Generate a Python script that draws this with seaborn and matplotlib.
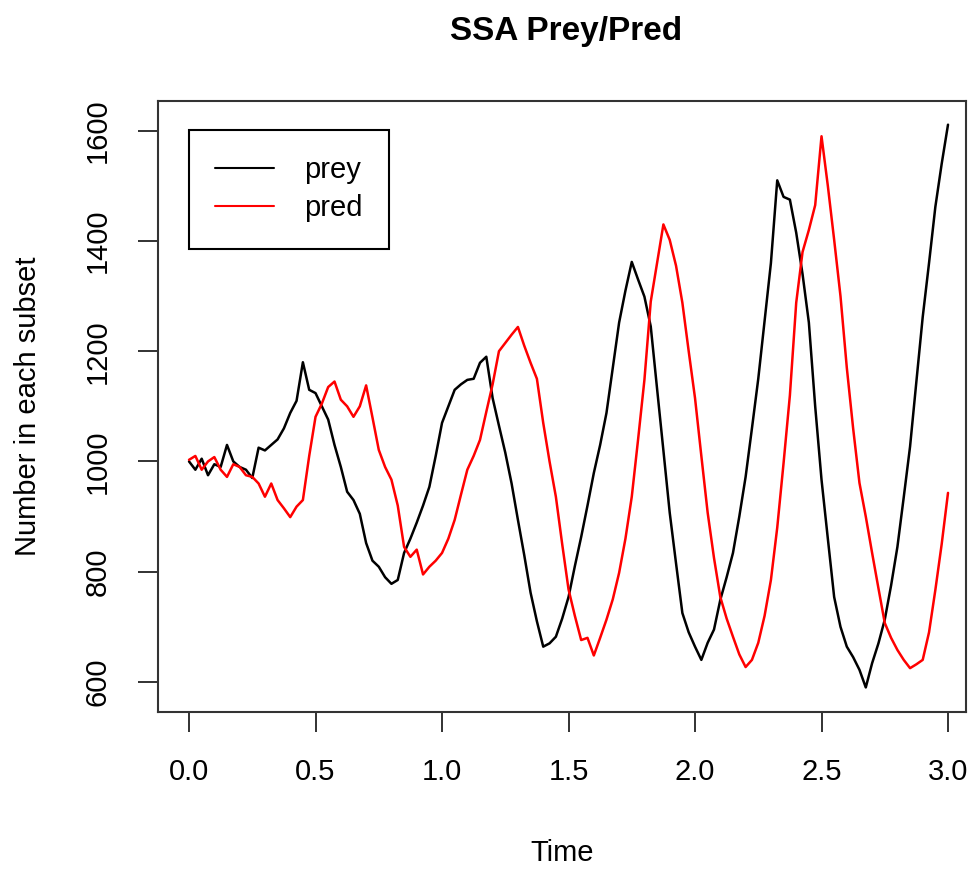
import matplotlib

matplotlib.use("Agg", force=True)
import matplotlib.pyplot as plt
import numpy as np
import pandas as pd
import seaborn as sns

# time grid of the simulation trace (step 0.025)
time = np.round(np.arange(0, 3.0001, 0.025), 3)

prey = [
    1000, 985, 1005, 975, 995, 990, 1030, 1000, 990, 985,
    970, 1025, 1020, 1030, 1040, 1060, 1088, 1110, 1180, 1130,
    1124, 1100, 1076, 1030, 990, 945, 930, 905, 852, 820,
    809, 790, 778, 785, 834, 860, 889, 920, 954, 1010,
    1070, 1100, 1130, 1140, 1148, 1150, 1179, 1190, 1115, 1065,
    1016, 960, 894, 830, 762, 710, 664, 670, 682, 715,
    754, 810, 863, 920, 979, 1030, 1088, 1170, 1252, 1310,
    1362, 1330, 1299, 1245, 1132, 1020, 907, 815, 725, 690,
    664, 640, 671, 695, 749, 790, 834, 900, 972, 1060,
    1150, 1255, 1360, 1510, 1480, 1475, 1415, 1340, 1252, 1100,
    967, 860, 754, 700, 664, 645, 622, 590, 634, 670,
    713, 775, 845, 935, 1027, 1145, 1262, 1360, 1462, 1540,
    1611,
]

pred = [
    1003, 1010, 985, 1000, 1008, 985, 972, 995, 990, 975,
    972, 960, 936, 960, 930, 915, 899, 918, 930, 1010,
    1081, 1105, 1135, 1145, 1112, 1100, 1081, 1100, 1138, 1080,
    1021, 990, 967, 920, 845, 827, 840, 795, 809, 820,
    834, 860, 894, 940, 985, 1010, 1039, 1090, 1140, 1200,
    1215, 1230, 1244, 1210, 1179, 1150, 1070, 1000, 936, 850,
    768, 720, 676, 680, 648, 680, 713, 750, 798, 860,
    936, 1040, 1148, 1290, 1360, 1430, 1402, 1355, 1288, 1200,
    1115, 1010, 907, 825, 754, 715, 682, 650, 627, 640,
    671, 720, 785, 880, 997, 1120, 1288, 1380, 1420, 1465,
    1590, 1500, 1402, 1300, 1170, 1060, 961, 900, 834, 770,
    707, 680, 658, 640, 625, 632, 640, 690, 767, 850,
    943,
]

x_ticks = [0.0, 0.5, 1.0, 1.5, 2.0, 2.5, 3.0]
y_ticks = [600, 800, 1000, 1200, 1400, 1600]

df = pd.DataFrame({
    "Time": np.concatenate([time, time]),
    "value": prey + pred,
    "series": ["prey"] * len(time) + ["pred"] * len(time),
})

sns.set_style("ticks")
plt.rcParams["font.family"] = ["Liberation Sans", "DejaVu Sans"]
plt.rcParams["text.color"] = "black"
plt.rcParams["axes.labelcolor"] = "black"
plt.rcParams["xtick.color"] = "black"
plt.rcParams["ytick.color"] = "black"

fig = plt.figure(figsize=(9.78, 8.69), dpi=100)
ax = fig.add_axes([0.1616, 0.1807, 0.8261, 0.7031])

sns.lineplot(data=df, x="Time", y="value", hue="series",
             palette={"prey": "black", "pred": "red"},
             linewidth=1.8, ax=ax, estimator=None, sort=False)

ax.set_xlim(-0.1225, 3.071)
ax.set_ylim(545.5, 1654)
ax.set_xticks(x_ticks)
ax.set_xticklabels([f"{t:.1f}" for t in x_ticks])
ax.set_yticks(y_ticks)
ax.set_yticklabels([str(v) for v in y_ticks], rotation=90, va="center")
ax.tick_params(axis="both", length=14.5, width=1.3, color="#222222",
               labelsize=21, pad=19)

for sp in ax.spines.values():
    sp.set_linewidth(1.5)
    sp.set_color("#333333")

ax.set_xlabel("Time", fontsize=21, labelpad=38)
ax.set_ylabel("Number in each subset", fontsize=21, labelpad=30)
fig.text(0.5787, 0.964, "SSA Prey/Pred", ha="center", va="center",
         fontsize=24, fontweight="bold")

handles, labels = ax.get_legend_handles_labels()
leg = ax.legend(handles, labels, loc="upper left",
                bbox_to_anchor=(0.0384, 0.9525), borderaxespad=0,
                fancybox=False, edgecolor="black", framealpha=1,
                fontsize=21, handlelength=2.0, handletextpad=1.05,
                labelspacing=0.35, borderpad=0.9)
leg.get_frame().set_linewidth(1.5)
for line in leg.get_lines():
    line.set_linewidth(1.5)

fig.savefig("out.png", dpi=100)
